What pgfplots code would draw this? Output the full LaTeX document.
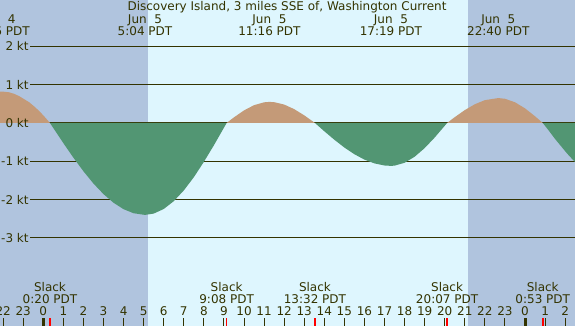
\documentclass[border=0pt]{standalone}
\usepackage{pgfplots}
\pgfplotsset{compat=1.18}
\usepackage{fontspec}
\setmainfont{DejaVu Sans}
\definecolor{day}{RGB}{222,246,254}
\definecolor{night}{RGB}{176,196,222}
\definecolor{flood}{RGB}{196,154,120}
\definecolor{ebb}{RGB}{82,150,115}
\definecolor{ink}{RGB}{51,51,0}
\begin{document}
\fontsize{12}{14}\selectfont
\begin{tikzpicture}
\useasboundingbox (0,0) rectangle (575pt,326pt);
\clip (0,0) rectangle (575pt,326pt);
\begin{axis}[at={(0,0)}, anchor=south west,
  width=575pt, height=326pt, scale only axis,
  xmin=-2.157, xmax=26.49, ymin=-5.30, ymax=3.21,
  axis line style={draw=none},
  axis background/.style={fill=day},
  axis on top,
  ytick=\empty,
  xtick={-2,-1,0,1,2,3,4,5,6,7,8,9,10,11,12,13,14,15,16,17,18,19,20,21,22,23,24,25,26},
  xticklabels={22,23,0,1,2,3,4,5,6,7,8,9,10,11,12,13,14,15,16,17,18,19,20,21,22,23,0,1,2},
  xtick pos=bottom, tick align=inside,
  major tick length=8pt,
  every tick/.style={ink, line width=1pt},
  xticklabel style={anchor=base, yshift=10.3pt, text=ink, font=\fontsize{12}{14}\selectfont},
  extra x ticks={0,24}, extra x tick labels={},
  extra x tick style={every tick/.style={ink, line width=3pt}},
  clip=true,
]
% night shading
\addplot[draw=none, fill=night] coordinates {(-3,-6) (5.2,-6) (5.2,4) (-3,4)} -- cycle;
\addplot[draw=none, fill=night] coordinates {(21.16,-6) (27,-6) (27,4) (21.16,4)} -- cycle;
% grid lines
\addplot[ink, line width=1pt] coordinates {(-0.66,2) (27,2)};
\addplot[ink, line width=1pt] coordinates {(-0.66,1) (27,1)};
\addplot[ink, line width=1pt] coordinates {(-0.66,0) (27,0)};
\addplot[ink, line width=1pt] coordinates {(-0.66,-1) (27,-1)};
\addplot[ink, line width=1pt] coordinates {(-0.66,-2) (27,-2)};
\addplot[ink, line width=1pt] coordinates {(-0.66,-3) (27,-3)};
% current
\addplot[draw=none, fill=flood] coordinates {(-2.3,0.82) (-2.2,0.82) (-1.95,0.815) (-1.7,0.80) (-1.45,0.76) (-1.2,0.70) (-0.95,0.62) (-0.7,0.54) (-0.45,0.43) (-0.2,0.31) (0.05,0.17) (0.333,0)} \closedcycle;
\addplot[draw=none, fill=ebb] coordinates {(0.333,0) (1,-0.527) (1.5,-0.906) (2,-1.261) (2.5,-1.582) (3,-1.858) (3.5,-2.083) (4,-2.251) (4.5,-2.357) (5.067,-2.4) (5.5,-2.366) (6,-2.246) (6.5,-2.042) (7,-1.761) (7.5,-1.416) (8,-1.015) (8.5,-0.582) (9,-0.124) (9.133,0)} \closedcycle;
\addplot[draw=none, fill=flood] coordinates {(9.133,0) (9.5,0.147) (10,0.328) (10.5,0.465) (11,0.539) (11.267,0.55) (11.5,0.543) (12,0.481) (12.5,0.361) (13,0.199) (13.533,0)} \closedcycle;
\addplot[draw=none, fill=ebb] coordinates {(13.533,0) (14,-0.216) (14.5,-0.438) (15,-0.641) (15.5,-0.816) (16,-0.957) (16.5,-1.056) (17,-1.110) (17.317,-1.12) (17.5,-1.114) (18,-1.039) (18.5,-0.882) (19,-0.656) (19.5,-0.380) (20,-0.073) (20.117,0)} \closedcycle;
\addplot[draw=none, fill=flood] coordinates {(20.117,0) (20.5,0.152) (21,0.336) (21.5,0.489) (22,0.596) (22.667,0.65) (23,0.632) (23.5,0.540) (24,0.381) (24.5,0.174) (24.883,0)} \closedcycle;
\addplot[draw=none, fill=ebb] coordinates {(24.883,0) (25.2,-0.21) (25.5,-0.42) (25.8,-0.61) (26.1,-0.80) (26.4,-0.97) (26.6,-1.07)} \closedcycle;
% slack ticks
\addplot[red, line width=1.5pt] coordinates {(0.333,-5.35) (0.333,-5.09)};
\addplot[red, line width=1.5pt] coordinates {(9.133,-5.35) (9.133,-5.09)};
\addplot[red, line width=1.5pt] coordinates {(13.533,-5.35) (13.533,-5.09)};
\addplot[red, line width=1.5pt] coordinates {(20.117,-5.35) (20.117,-5.09)};
\addplot[red, line width=1.5pt] coordinates {(24.883,-5.35) (24.883,-5.09)};
% y labels
\node[anchor=base east, text=ink, inner sep=0pt] at (axis cs:-0.72,2) [yshift=-4.6pt] {2 kt};
\node[anchor=base east, text=ink, inner sep=0pt] at (axis cs:-0.72,1) [yshift=-4.6pt] {1 kt};
\node[anchor=base east, text=ink, inner sep=0pt] at (axis cs:-0.72,0) [yshift=-4.6pt] {0 kt};
\node[anchor=base east, text=ink, inner sep=0pt] at (axis cs:-0.72,-1) [yshift=-4.6pt] {-1 kt};
\node[anchor=base east, text=ink, inner sep=0pt] at (axis cs:-0.72,-2) [yshift=-4.6pt] {-2 kt};
\node[anchor=base east, text=ink, inner sep=0pt] at (axis cs:-0.72,-3) [yshift=-4.6pt] {-3 kt};
% title and event labels
\node[anchor=base, text=ink, inner sep=0pt] at (axis cs:12.14,2.924) {Discovery Island, 3 miles SSE of, Washington Current};
\node[anchor=base, text=ink, inner sep=0pt] at (axis cs:-2.23,2.585) {Jun\ \ 4};
\node[anchor=base, text=ink, inner sep=0pt] at (axis cs:-2.23,2.28) {21:46 PDT};
\node[anchor=base, text=ink, inner sep=0pt] at (axis cs:5.067,2.585) {Jun\ \ 5};
\node[anchor=base, text=ink, inner sep=0pt] at (axis cs:5.067,2.28) {5:04 PDT};
\node[anchor=base, text=ink, inner sep=0pt] at (axis cs:11.267,2.585) {Jun\ \ 5};
\node[anchor=base, text=ink, inner sep=0pt] at (axis cs:11.267,2.28) {11:16 PDT};
\node[anchor=base, text=ink, inner sep=0pt] at (axis cs:17.317,2.585) {Jun\ \ 5};
\node[anchor=base, text=ink, inner sep=0pt] at (axis cs:17.317,2.28) {17:19 PDT};
\node[anchor=base, text=ink, inner sep=0pt] at (axis cs:22.667,2.585) {Jun\ \ 5};
\node[anchor=base, text=ink, inner sep=0pt] at (axis cs:22.667,2.28) {22:40 PDT};
% slack labels
\node[anchor=base, text=ink, inner sep=0pt] at (axis cs:0.333,-4.405) {Slack};
\node[anchor=base, text=ink, inner sep=0pt] at (axis cs:0.333,-4.708) {0:20 PDT};
\node[anchor=base, text=ink, inner sep=0pt] at (axis cs:9.133,-4.405) {Slack};
\node[anchor=base, text=ink, inner sep=0pt] at (axis cs:9.133,-4.708) {9:08 PDT};
\node[anchor=base, text=ink, inner sep=0pt] at (axis cs:13.533,-4.405) {Slack};
\node[anchor=base, text=ink, inner sep=0pt] at (axis cs:13.533,-4.708) {13:32 PDT};
\node[anchor=base, text=ink, inner sep=0pt] at (axis cs:20.117,-4.405) {Slack};
\node[anchor=base, text=ink, inner sep=0pt] at (axis cs:20.117,-4.708) {20:07 PDT};
\node[anchor=base, text=ink, inner sep=0pt] at (axis cs:24.883,-4.405) {Slack};
\node[anchor=base, text=ink, inner sep=0pt] at (axis cs:24.883,-4.708) {0:53 PDT};
\end{axis}
\end{tikzpicture}
\end{document}
